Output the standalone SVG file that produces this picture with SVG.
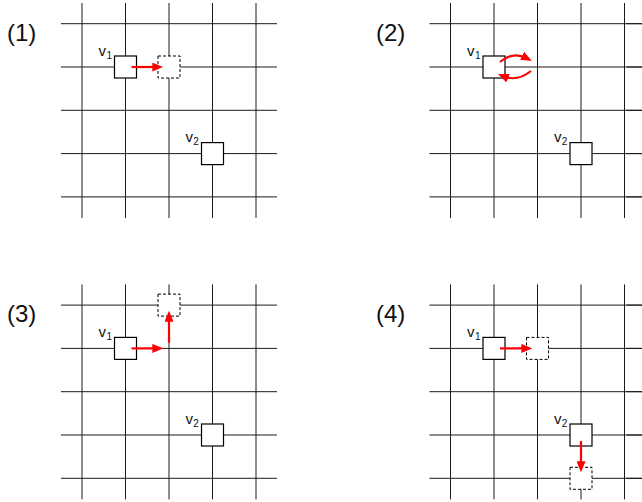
<svg xmlns="http://www.w3.org/2000/svg" width="642" height="502" viewBox="0 0 642 502">
<style>
.grid line{stroke:#1a1a1a;stroke-width:1}
.box{fill:#fff;stroke:#000;stroke-width:1.2}
.ghost{fill:#fff;stroke:#000;stroke-width:1;stroke-dasharray:3 2}
.lbl{font-family:"Liberation Sans",Arial,sans-serif;font-size:24px;fill:#111}
.v{font-family:"Liberation Sans",Arial,sans-serif;font-size:15px;fill:#111}
.sub{font-family:"Liberation Sans",Arial,sans-serif;font-size:10px;fill:#111}
.arr{stroke:#f00;stroke-width:2.2;fill:none;marker-end:url(#ah)}
</style>
<defs>
<marker id="ah" markerUnits="userSpaceOnUse" markerWidth="11" markerHeight="9" refX="5" refY="4.5" orient="auto">
<path d="M0,0 L11,4.5 L0,9 z" fill="#f00"/>
</marker>
<g id="gridA" stroke="#1a1a1a" stroke-width="1">
<line x1="82" y1="3" x2="82" y2="218"/><line x1="125.5" y1="3" x2="125.5" y2="218"/><line x1="169" y1="3" x2="169" y2="218"/><line x1="212.5" y1="3" x2="212.5" y2="218"/><line x1="256" y1="3" x2="256" y2="218"/>
<line x1="61" y1="23.7" x2="277" y2="23.7"/><line x1="61" y1="67" x2="277" y2="67"/><line x1="61" y1="110.3" x2="277" y2="110.3"/><line x1="61" y1="153.6" x2="277" y2="153.6"/><line x1="61" y1="196.9" x2="277" y2="196.9"/>
</g>
</defs>

<g id="panel1">
<text class="lbl" x="7" y="40.5">(1)</text>
<g class="grid"><use href="#gridA"/></g>
<g id="p1v1"><rect class="box" x="114.5" y="56" width="22" height="22"/><text class="v" x="98.5" y="55.7">v</text><text class="sub" x="106.5" y="58.5">1</text></g>
<g id="p1ghost"><rect class="ghost" x="158" y="56" width="22" height="22"/></g>
<g id="p1v2"><rect class="box" x="201.5" y="142.6" width="22" height="22"/><text class="v" x="185.5" y="142.3">v</text><text class="sub" x="193.3" y="145.1">2</text></g>
</g>

<g id="panel2">
<text class="lbl" x="376" y="40.5">(2)</text>
<g class="grid" transform="translate(368.5,0)"><use href="#gridA"/><line x1="258" y1="23.7" x2="273.5" y2="23.7"/><line x1="258" y1="67" x2="273.5" y2="67"/><line x1="258" y1="110.3" x2="273.5" y2="110.3"/><line x1="258" y1="153.6" x2="273.5" y2="153.6"/><line x1="258" y1="196.9" x2="273.5" y2="196.9"/></g>
<g id="p2v1"><rect class="box" x="483" y="56" width="22" height="22"/><text class="v" x="467" y="55.7">v</text><text class="sub" x="475" y="58.5">1</text></g>
<g id="p2v2"><rect class="box" x="570" y="142.6" width="22" height="22"/><text class="v" x="554" y="142.3">v</text><text class="sub" x="561.8" y="145.1">2</text></g>
</g>

<g id="panel3">
<text class="lbl" x="7" y="321.8">(3)</text>
<g class="grid" transform="translate(0,281.4)"><use href="#gridA"/></g>
<g id="p3v1"><rect class="box" x="114.5" y="337.4" width="22" height="22"/><text class="v" x="98.5" y="337.1">v</text><text class="sub" x="106.5" y="339.9">1</text></g>
<g id="p3ghost"><rect class="ghost" x="158" y="294.1" width="22" height="22"/></g>
<g id="p3v2"><rect class="box" x="201.5" y="424" width="22" height="22"/><text class="v" x="185.5" y="423.7">v</text><text class="sub" x="193.3" y="426.5">2</text></g>
</g>

<g id="panel4">
<text class="lbl" x="376" y="321.8">(4)</text>
<g class="grid" transform="translate(368.5,281.4)"><use href="#gridA"/><line x1="258" y1="23.7" x2="273.5" y2="23.7"/><line x1="258" y1="67" x2="273.5" y2="67"/><line x1="258" y1="110.3" x2="273.5" y2="110.3"/><line x1="258" y1="153.6" x2="273.5" y2="153.6"/><line x1="258" y1="196.9" x2="273.5" y2="196.9"/></g>
<g id="p4v1"><rect class="box" x="483" y="337.4" width="22" height="22"/><text class="v" x="467" y="337.1">v</text><text class="sub" x="475" y="339.9">1</text></g>
<g id="p4ghost1"><rect class="ghost" x="526.5" y="337.4" width="22" height="22"/></g>
<g id="p4v2"><rect class="box" x="570" y="424" width="22" height="22"/><text class="v" x="554" y="423.7">v</text><text class="sub" x="561.8" y="426.5">2</text></g>
<g id="p4ghost2"><rect class="ghost" x="570" y="467.3" width="22" height="22"/></g>
</g>

<g id="connectors">
<line class="arr" x1="131.5" y1="67" x2="157.3" y2="67"/>
<path class="arr" d="M500,62 Q513,51 526.5,58.2"/>
<path class="arr" d="M531,71 Q517,82 503.5,76.3"/>
<line class="arr" x1="131.5" y1="348.4" x2="157.3" y2="348.4"/>
<line class="arr" x1="169" y1="342.7" x2="169" y2="316.7"/>
<line class="arr" x1="500" y1="348.4" x2="526.3" y2="348.4"/>
<line class="arr" x1="581" y1="441" x2="581" y2="466.3"/>
</g>
</svg>
